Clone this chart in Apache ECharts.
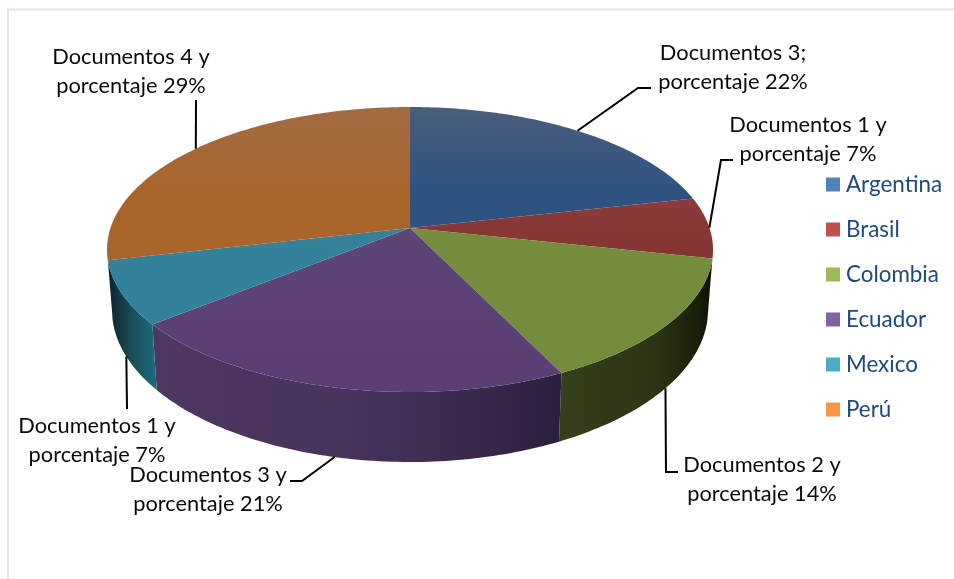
<!DOCTYPE html>
<html>
<head>
<meta charset="utf-8">
<style>html,body{margin:0;padding:0;background:#fff}#c{width:954px;height:579px}</style>
<script src="https://cdn.jsdelivr.net/npm/echarts@6/dist/echarts.min.js"></script>
</head>
<body>
<div id="c"></div>
<script>
// ---- data ----
var categories = ['Argentina', 'Brasil', 'Colombia', 'Ecuador', 'Mexico', 'Perú'];
var values = [21.5, 6.9, 14.4, 21.4, 7.2, 28.6];
var labelLines = [
  ['Documentos 3;', 'porcentaje 22%'],
  ['Documentos 1 y', 'porcentaje 7%'],
  ['Documentos 2 y', 'porcentaje 14%'],
  ['Documentos 3 y', 'porcentaje 21%'],
  ['Documentos 1 y', 'porcentaje 7%'],
  ['Documentos 4 y', 'porcentaje 29%']
];
// ---- style / layout ----
var legendColors = ['#4F81BD', '#C0504D', '#9BBB59', '#8064A2', '#4BACC6', '#F79646'];
var topStops = [
  ['#4A5D7C', '#2E5381', '#2A4F7E'],
  ['#8C3F3F', '#8C3C3C', '#74221F'],
  ['#768C42', '#748E3E', '#728C3C'],
  ['#66527C', '#5F4778', '#5A3E74'],
  ['#40849A', '#35839B', '#308199'],
  ['#A06C42', '#A8652B', '#A86224']
];
var wallStops = [
  [[0, '#1A2E48'], [1, '#0C1624']],
  [[0, '#4A1A1A'], [1, '#100404']],
  [[0, '#363F1A'], [0.62, '#2C3515'], [0.9, '#1A2009'], [1, '#0C0F04']],
  [[0, '#4F3764'], [0.45, '#48345C'], [0.78, '#3A294D'], [1, '#2C1F3E']],
  [[0, '#0C2229'], [0.45, '#1A4A56'], [1, '#1E6C7E']],
  [[0, '#3A2410'], [1, '#5A3515']]
];
// leader elbows and label centres, per slice
var labelLayout = [
  {elbow: [[638, 88], [651, 88]], x: 733, y: 67},
  {elbow: [[721, 160], [733, 160]], x: 808, y: 139},
  {elbow: [[666, 472], [678, 472]], x: 762, y: 479},
  {elbow: [[302, 481], [290, 481]], x: 208, y: 489},
  {elbow: [[127, 409]], x: 97, y: 440},
  {elbow: [[196, 100]], x: 131, y: 71}
];
var pie = {cx: 410, topCy: 249.5, topA: 303, topB: 142.5, botCy: 310, botA: 298, botB: 152, boost: -0.151,
           topY0: 107, topY1: 392};

// perspective map: true angle on the disc -> normalised point on the ellipse
function project(frac) {
  var t = frac * 2 * Math.PI, u = Math.sin(t), v = -Math.cos(t), b = pie.boost, d = 1 + b * v;
  return [u * Math.sqrt(1 - b * b) / d, (v + b) / d];
}
function onTop(p) { return [pie.cx + p[0] * pie.topA, pie.topCy + p[1] * pie.topB]; }
function onBottom(p) { return [pie.cx + p[0] * pie.botA, pie.botCy + p[1] * pie.botB]; }
function apex() { return [pie.cx, pie.topCy + pie.boost * pie.topB]; }

var total = values.reduce(function (a, b) { return a + b; }, 0);
var starts = [];
values.reduce(function (acc, v, i) { starts[i] = acc; return acc + v; }, 0);

function renderSlice(i) {
  return function (params, api) {
    var value = api.value(0), s = starts[i] / total, e = (starts[i] + value) / total;
    var steps = Math.max(8, Math.round((e - s) * 360)), arc = [];
    for (var k = 0; k <= steps; k++) arc.push(project(s + (e - s) * k / steps));
    var children = [];
    // side wall: only the part of the rim facing the viewer
    var front = arc.filter(function (p) { return p[1] >= 0; });
    if (front.length > 1) {
      var pts = front.map(onTop).concat(front.slice().reverse().map(onBottom));
      var xs = pts.map(function (p) { return p[0]; });
      children.push({
        type: 'polygon', z2: 1, shape: {points: pts}, silent: true,
        style: {fill: new echarts.graphic.LinearGradient(Math.min.apply(null, xs), 0, Math.max.apply(null, xs), 0,
          wallStops[i].map(function (c) { return {offset: c[0], color: c[1]}; }), true)}
      });
    }
    // top face
    var ts = topStops[i];
    children.push({
      type: 'polygon', z2: 5, shape: {points: [apex()].concat(arc.map(onTop))}, silent: true,
      style: {fill: new echarts.graphic.LinearGradient(0, pie.topY0, 0, pie.topY1, [
        {offset: 0, color: ts[0]}, {offset: 0.3, color: ts[1]}, {offset: 1, color: ts[2]}], true)}
    });
    // leader line, starting at the slice's mid angle
    var mid = project((s + e) / 2), L = labelLayout[i];
    var anchor = mid[1] > 0.2 ? onBottom(mid) : onTop(mid);
    children.push({
      type: 'polyline', z2: 8, silent: true, shape: {points: [anchor].concat(L.elbow)},
      style: {stroke: '#000', lineWidth: 2, fill: 'none'}
    });
    children.push({
      type: 'text', z2: 9, silent: true, x: L.x, y: L.y,
      style: {text: labelLines[i].join('\n'), fill: '#0A0A0A', font: '21.8px Lato, sans-serif',
        lineHeight: 29, align: 'center', verticalAlign: 'middle'}
    });
    return {type: 'group', children: children};
  };
}

var chart = echarts.init(document.getElementById('c'), null, {renderer: 'canvas'});
chart.setOption({
  animation: false,
  backgroundColor: '#fff',
  graphic: [{type: 'rect', silent: true, z: -1, shape: {x: 8, y: 9.5, width: 1200, height: 1200},
    style: {fill: 'none', stroke: '#DCE6F2', lineWidth: 2}}],
  legend: {
    orient: 'vertical', left: 821, top: 168, itemWidth: 14, itemHeight: 14, itemGap: 22,
    selectedMode: false, icon: 'rect', data: categories, itemStyle: {borderWidth: 0},
    textStyle: {color: '#1F497D', fontFamily: 'Lato, sans-serif', fontSize: 22.4, lineHeight: 23, padding: [0, 0, 0, 1]}
  },
  series: categories.map(function (name, i) {
    return {
      type: 'custom', name: name, coordinateSystem: 'none', silent: true,
      itemStyle: {color: legendColors[i]},
      data: [[values[i]]], renderItem: renderSlice(i)
    };
  })
});
</script>
</body>
</html>
